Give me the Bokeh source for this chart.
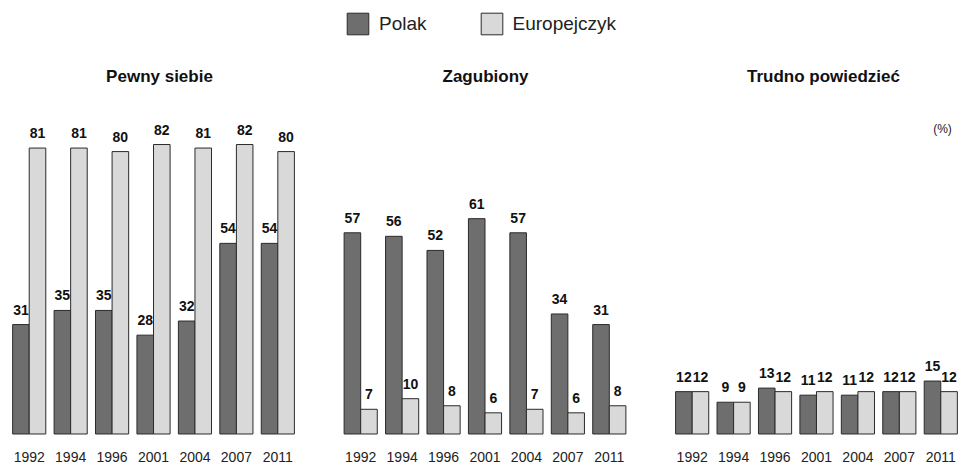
from bokeh.plotting import figure
from bokeh.models import ColumnDataSource, FactorRange, Range1d, Legend, LegendItem, Label
from bokeh.transform import dodge
from bokeh.core.properties import value
from bokeh.embed import file_html
from bokeh.resources import INLINE

panels = ["Pewny siebie", "Zagubiony", "Trudno powiedzieć"]
years = ["1992", "1994", "1996", "2001", "2004", "2007", "2011"]
series = ["Polak", "Europejczyk"]

polak_pewny = [31, 35, 35, 28, 32, 54, 54]
euro_pewny = [81, 81, 80, 82, 81, 82, 80]
polak_zagubiony = [57, 56, 52, 61, 57, 34, 31]
euro_zagubiony = [7, 10, 8, 6, 7, 6, 8]
polak_trudno = [12, 9, 13, 11, 11, 12, 15]
euro_trudno = [12, 9, 12, 12, 12, 12, 12]
unit_label = "(%)"

FONT = "Liberation Sans"
DARK = "#6e6e6e"
LIGHT = "#d9d9d9"
EDGE = "#2b2b2b"

xs = [(pn, y) for pn in panels for y in years]
polak = polak_pewny + polak_zagubiony + polak_trudno
euro = euro_pewny + euro_zagubiony + euro_trudno
src = ColumnDataSource(dict(
    x=xs,
    year=[y for pn in panels for y in years],
    polak=polak,
    euro=euro,
    polak_lbl=[str(v) for v in polak],
    euro_lbl=[str(v) for v in euro],
))

W, H = 961, 464
LEFT = 8
xr = FactorRange(*xs, group_padding=1.0, factor_padding=0.0, range_padding=0.0)
p = figure(x_range=xr, y_range=Range1d(-8.64, 122.8), width=W, height=H,
           output_backend="svg", toolbar_location=None,
           x_axis_location=None, y_axis_location=None,
           min_border=0, min_border_left=LEFT, min_border_right=0,
           min_border_top=0, min_border_bottom=0)
p.outline_line_color = None
p.grid.visible = False
p.background_fill_color = "white"

r1 = p.vbar(x=dodge('x', -0.2, range=p.x_range), top='polak', width=0.4, source=src,
            fill_color=DARK, line_color=EDGE, line_width=1)
r2 = p.vbar(x=dodge('x', 0.2, range=p.x_range), top='euro', width=0.4, source=src,
            fill_color=LIGHT, line_color=EDGE, line_width=1)

p.text(x=dodge('x', -0.2, range=p.x_range), y='polak', text='polak_lbl', source=src,
       text_align='center', text_baseline='bottom', y_offset=-10,
       text_font=value(FONT), text_font_style='bold', text_font_size='14px', text_color='#111111')
p.text(x=dodge('x', 0.2, range=p.x_range), y='euro', text='euro_lbl', source=src,
       text_align='center', text_baseline='bottom', y_offset=-10,
       text_font=value(FONT), text_font_style='bold', text_font_size='14px', text_color='#111111')

p.text(x='x', y=0, text='year', source=src, text_align='center', text_baseline='top',
       y_offset=18, text_font=value(FONT), text_font_size='14px', text_color='#222222')

title_x = [159, 485, 823]
for name, tx in zip(panels, title_x):
    p.add_layout(Label(x=tx - LEFT, y=H - 76, x_units='screen', y_units='screen', text=name,
                       text_align='center', text_baseline='middle', text_font=FONT,
                       text_font_style='bold', text_font_size='17px', text_color='#111111'))
p.add_layout(Label(x=942 - LEFT, y=H - 128, x_units='screen', y_units='screen', text=unit_label,
                   text_align='center', text_baseline='middle', text_font=FONT,
                   text_font_size='12px', text_color='#222222'))

legend = Legend(items=[LegendItem(label=series[0], renderers=[r1]),
                       LegendItem(label=series[1], renderers=[r2])],
                orientation='horizontal', location=(344 - LEFT, H - 10 - 27),
                glyph_width=27, glyph_height=27, label_height=27,
                label_text_font=FONT, label_text_font_size='19px', label_text_color='#222222',
                label_standoff=8, spacing=51, padding=0, margin=0,
                border_line_color=None, background_fill_alpha=0)
p.add_layout(legend)

open("out.html", "w").write(file_html(p, INLINE))
